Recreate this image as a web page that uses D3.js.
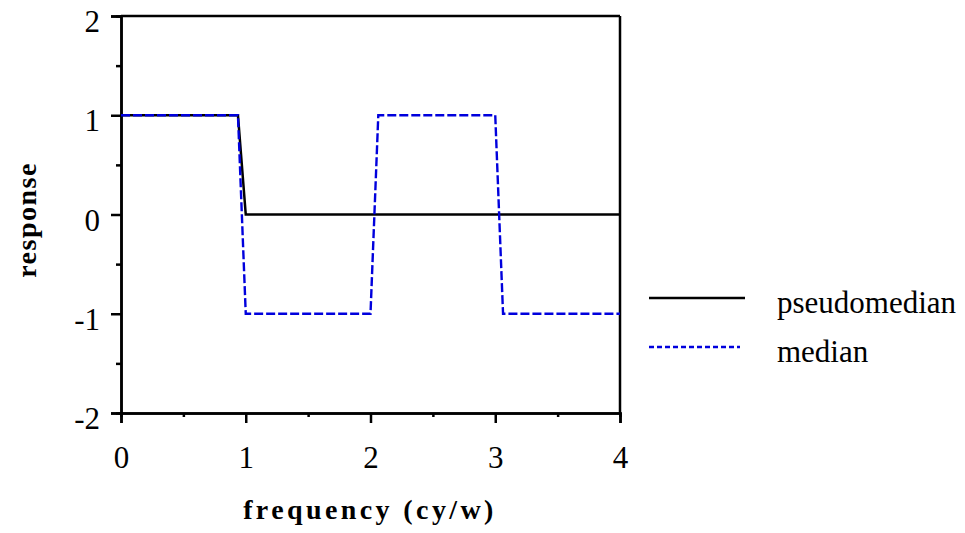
<!DOCTYPE html>
<html>
<head>
<meta charset="utf-8">
<script src="https://cdn.jsdelivr.net/npm/d3@7"></script>
<style>
  html, body { margin: 0; padding: 0; background: #fff; }
  svg { display: block; }
</style>
</head>
<body>
<svg id="chart" width="965" height="533"></svg>
<script>
// ---- data ----
const pseudomedianX = [0, 0.9375, 1.0, 4];
const pseudomedianY = [1, 1, 0, 0];
const medianX = [0, 0.9375, 1.0, 2.0, 2.0625, 3.0, 3.0625, 4];
const medianY = [1, 1, -1, -1, 1, 1, -1, -1];
const xTicks = [0, 1, 2, 3, 4];
const yTicks = [-2, -1, 0, 1, 2];
const seriesNames = ["pseudomedian", "median"];
const xLabel = "frequency (cy/w)";
const yLabel = "response";

const FONT = "Liberation Serif";

const svg = d3.select("#chart");
const m = { left: 121, right: 620, top: 16, bottom: 413 };
const x = d3.scaleLinear().domain([0, 4]).range([m.left, m.right]);
const y = d3.scaleLinear().domain([-2, 2]).range([m.bottom, m.top]);

const fs = 31;
const fmt = d => String(d);

// frame (top & right)
svg.append("line").attr("x1", x(0)).attr("x2", x(4)).attr("y1", y(2)).attr("y2", y(2))
  .attr("stroke", "#000").attr("stroke-width", 2.5);
svg.append("line").attr("x1", x(4)).attr("x2", x(4)).attr("y1", y(2)).attr("y2", y(-2))
  .attr("stroke", "#000").attr("stroke-width", 2.5);

// x axis
const xAxis = svg.append("g").attr("transform", `translate(0,${y(-2)})`)
  .call(d3.axisBottom(x).tickValues(xTicks).tickFormat(fmt).tickSize(10).tickPadding(23));
const xMinor = svg.append("g").attr("transform", `translate(0,${y(-2)})`)
  .call(d3.axisBottom(x).tickValues(d3.range(0.5, 4, 1)).tickFormat("").tickSize(4));
// y axis
const yAxis = svg.append("g").attr("transform", `translate(${x(0)},0)`)
  .call(d3.axisLeft(y).tickValues(yTicks).tickFormat(fmt).tickSize(10).tickPadding(11));
const yMinor = svg.append("g").attr("transform", `translate(${x(0)},0)`)
  .call(d3.axisLeft(y).tickValues(d3.range(-1.5, 2, 1)).tickFormat("").tickSize(5));

[xAxis, xMinor, yAxis, yMinor].forEach(g => {
  g.attr("font-family", FONT).attr("font-size", fs);
  g.select(".domain").attr("stroke", "#000").attr("stroke-width", 2.5);
  g.selectAll(".tick line").attr("stroke", "#000").attr("stroke-width", 2.5);
  g.selectAll(".tick text").attr("font-family", FONT).attr("font-size", fs).attr("fill", "#000");
});
xAxis.selectAll(".tick text").attr("dy", "0.71em");
yAxis.selectAll(".tick text").attr("dy", "0.5em");

// lines
const line = d3.line().x(d => x(d[0])).y(d => y(d[1]));
const pseudoData = pseudomedianX.map((v, i) => [v, pseudomedianY[i]]);
const medianData = medianX.map((v, i) => [v, medianY[i]]);

svg.append("path").datum(pseudoData).attr("d", line)
  .attr("fill", "none").attr("stroke", "#000").attr("stroke-width", 2.5);
svg.append("path").datum(medianData).attr("d", line)
  .attr("fill", "none").attr("stroke", "#0000dd").attr("stroke-width", 2.4)
  .attr("stroke-dasharray", "9,3");

// axis titles
svg.append("text").attr("x", 370).attr("y", 519).attr("text-anchor", "middle")
  .attr("font-family", FONT)
  .attr("font-size", 28).attr("font-weight", "bold").attr("letter-spacing", 3.4)
  .text(xLabel);
svg.append("text").attr("transform", "translate(36,220) rotate(-90)").attr("text-anchor", "middle")
  .attr("font-family", FONT)
  .attr("font-size", 28).attr("font-weight", "bold").attr("letter-spacing", 1.5)
  .text(yLabel);

// legend
const legend = svg.append("g");
const legendStyles = [
  { color: "#000", dash: null, x2: 745, y: 298 },
  { color: "#0000dd", dash: "5,3", x2: 740, y: 347 }
];
seriesNames.forEach((name, i) => {
  const s = legendStyles[i];
  legend.append("line").attr("x1", 649).attr("x2", s.x2).attr("y1", s.y).attr("y2", s.y)
    .attr("stroke", s.color).attr("stroke-width", 2.4).attr("stroke-dasharray", s.dash);
  legend.append("text").attr("x", 777).attr("y", s.y + 15).attr("font-family", FONT)
    .attr("font-size", fs).attr("fill", "#000").text(name);
});
</script>
</body>
</html>
